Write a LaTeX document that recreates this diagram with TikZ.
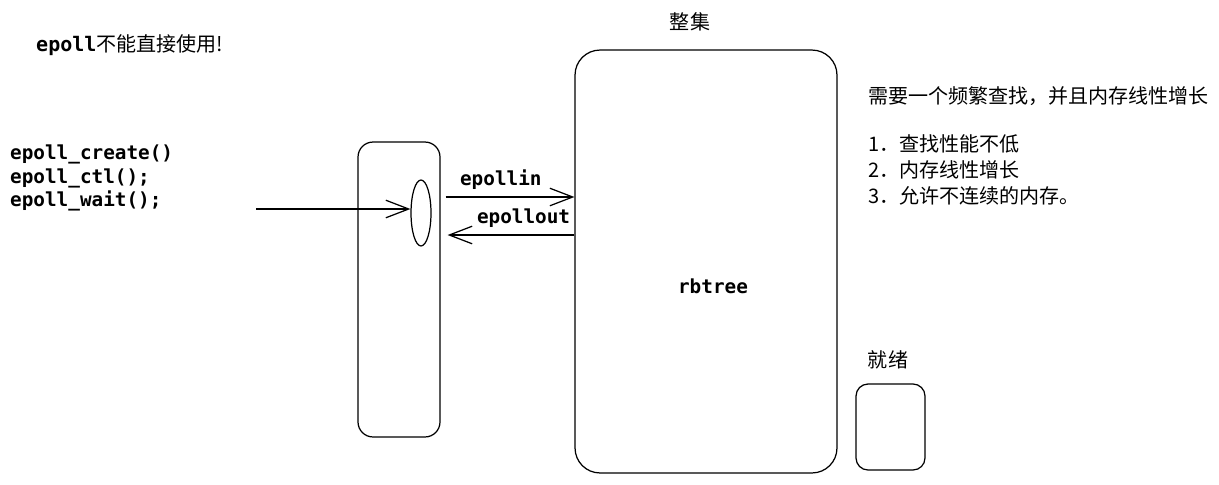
\documentclass[tikz,border=0pt]{standalone}
\usepackage{fontspec}
\setmainfont{Noto Sans CJK SC}
\setmonofont{DejaVu Sans Mono}
\usetikzlibrary{arrows.meta, shapes.geometric, positioning}

\tikzset{
  box/.style={draw, line width=0.7pt, rounded corners=#1},
  box/.default=0.3cm,
  arr/.style={-{Straight Barb[length=13pt,width=10pt]}, line width=0.7pt},
  code/.style={font=\fontsize{11}{13.3}\selectfont\ttfamily\bfseries},
  note/.style={font=\fontsize{11.4}{14.7}\selectfont, anchor=west, align=left},
}

\begin{document}
\begin{tikzpicture}[x=0.02cm, y=-0.02cm]
  \useasboundingbox (0,0) rectangle (1219,484);

  % Warning and API calls
  \node[note] (warn) at (30,45) {{\ttfamily\bfseries epoll}不能直接使用!};
  \node[code, anchor=west, align=left] (api) at (4,178) {epoll\_create()\\epoll\_ctl();\\epoll\_wait();};
  \coordinate (caller) at (256,209);

  % epoll fd
  \node[box=0.3cm, minimum width=1.64cm, minimum height=5.9cm] (epfd) at (399,289.5) {};
  \node[draw, ellipse, line width=0.7pt, inner sep=0pt, minimum width=0.4cm, minimum height=1.32cm] (evt) at (421,213) {};
  \draw[arr] (caller) -- (evt.west |- caller);

  % Full set
  \node[box=0.5cm, minimum width=5.24cm, minimum height=8.46cm] (allset) at (706,261.5) {};
  \node[note, anchor=center] (setlbl) at (690,22) {整集};
  \node[code] (tree) at (713,286) {rbtree};

  % Events in / out
  \coordinate (inrow) at (0,197);
  \coordinate (outrow) at (0,235);
  \draw[arr, shorten <=0.1cm] (epfd.east |- inrow) -- (allset.west |- inrow)
    node[code, pos=0.45, above=0.02cm] (inlbl) {epollin};
  \draw[arr, shorten >=0.14cm] (allset.west |- outrow) -- (epfd.east |- outrow)
    node[code, pos=0.38, above=0.02cm] (outlbl) {epollout};

  % Ready list
  \node[note, anchor=center] (rdylbl) at (888,360) {就绪};
  \node[box=0.24cm, minimum width=1.38cm, minimum height=1.72cm] (ready) at (890.5,427) {};

  % Requirements
  \node[note] (need) at (862,96) {需要一个频繁查找，并且内存线性增长};
  \node[note] (reqs) at (862,170) {1．查找性能不低\\2．内存线性增长\\3．允许不连续的内存。};
\end{tikzpicture}
\end{document}
